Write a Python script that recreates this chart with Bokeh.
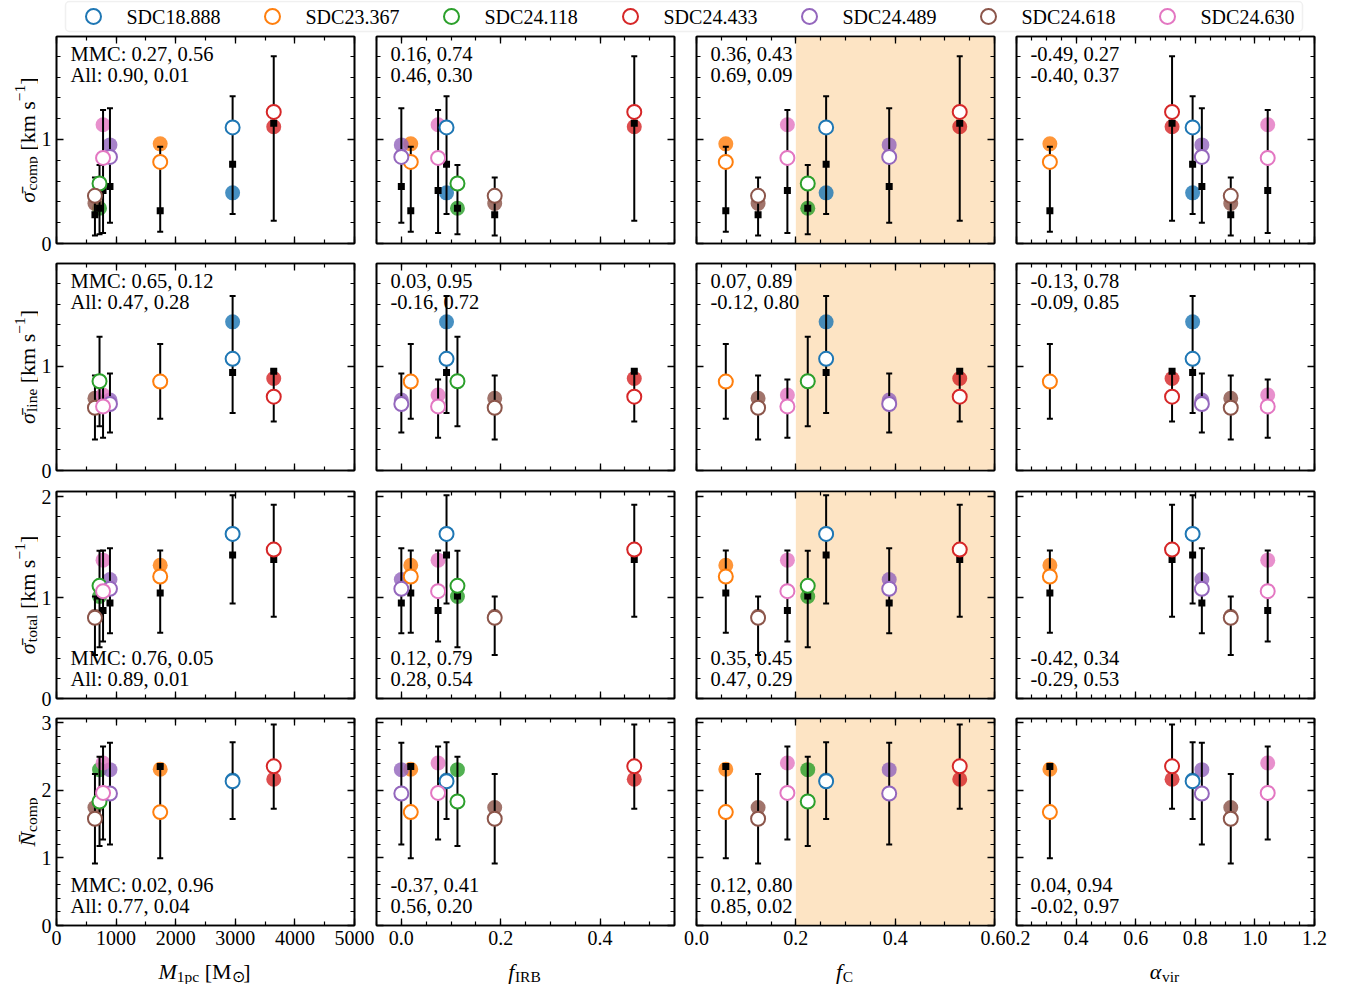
import math
from bokeh.plotting import figure
from bokeh.models import (Range1d, FixedTicker, LinearAxis, Label, BoxAnnotation,
                          NumeralTickFormatter, ColumnDataSource)
from bokeh.layouts import column, row
from bokeh.embed import file_html
from bokeh.resources import INLINE

NAN = float("nan")

# ---------------- data ----------------
names = ["SDC18.888", "SDC23.367", "SDC24.118", "SDC24.433", "SDC24.489", "SDC24.618", "SDC24.630"]
colors = ["#1f77b4", "#ff7f0e", "#2ca02c", "#d62728", "#9467bd", "#8c564b", "#e377c2"]

m1pc = [2955, 1740, 722, 3645, 897, 645, 781]
f_irb = [0.091, 0.019, 0.113, 0.469, 0.0, 0.188, 0.074]
f_c = [0.261, 0.059, 0.224, 0.530, 0.388, 0.124, 0.183]
alpha_vir = [0.791, 0.312, NAN, 0.722, 0.822, 0.919, 1.043]

# sigma_comp
comp_filled = [0.487, 0.958, 0.339, 1.123, 0.948, 0.384, 1.142]
comp_open = [1.116, 0.784, 0.577, 1.265, 0.832, 0.458, 0.823]
comp_med = [0.761, 0.316, 0.339, 1.155, 0.548, 0.277, 0.510]
comp_lo = [0.284, 0.113, 0.090, 0.219, 0.200, 0.077, 0.100]
comp_hi = [1.416, 0.930, 0.755, 1.800, 1.300, 0.635, 1.284]

# sigma_line
line_filled = [1.429, 0.855, 0.858, 0.884, 0.677, 0.694, 0.726]
line_open = [1.074, 0.855, 0.858, 0.710, 0.639, 0.603, 0.616]
line_med = [0.942, 0.855, 0.858, 0.955, 0.639, 0.603, 0.616]
line_lo = [0.552, 0.497, 0.426, 0.471, 0.365, 0.297, 0.316]
line_hi = [1.677, 1.216, 1.287, 0.968, 0.932, 0.913, 0.874]

# sigma_total
total_filled = [1.630, 1.320, 1.010, 1.475, 1.178, 0.815, 1.370]
total_open = [1.630, 1.208, 1.116, 1.475, 1.086, 0.799, 1.063]
total_med = [1.422, 1.046, 1.016, 1.376, 0.947, 0.800, 0.871]
total_lo = [0.940, 0.650, 0.508, 0.809, 0.647, 0.430, 0.564]
total_hi = [2.013, 1.465, 1.462, 1.920, 1.488, 1.010, 1.465]

# N_comp
ncomp_filled = [2.150, 2.309, 2.304, 2.162, 2.304, 1.745, 2.402]
ncomp_open = [2.132, 1.676, 1.833, 2.353, 1.951, 1.578, 1.960]
ncomp_med = [2.132, 2.350, 1.833, 2.353, 1.951, 1.578, 1.960]
ncomp_lo = [1.574, 0.995, 1.176, 1.725, 1.196, 0.917, 1.270]
ncomp_hi = [2.710, 2.360, 2.495, 2.970, 2.700, 2.240, 2.647]

stats_text = [
    [("MMC: 0.27, 0.56", "All: 0.90, 0.01"), ("0.16, 0.74", "0.46, 0.30"),
     ("0.36, 0.43", "0.69, 0.09"), ("-0.49, 0.27", "-0.40, 0.37")],
    [("MMC: 0.65, 0.12", "All: 0.47, 0.28"), ("0.03, 0.95", "-0.16, 0.72"),
     ("0.07, 0.89", "-0.12, 0.80"), ("-0.13, 0.78", "-0.09, 0.85")],
    [("MMC: 0.76, 0.05", "All: 0.89, 0.01"), ("0.12, 0.79", "0.28, 0.54"),
     ("0.35, 0.45", "0.47, 0.29"), ("-0.42, 0.34", "-0.29, 0.53")],
    [("MMC: 0.02, 0.96", "All: 0.77, 0.04"), ("-0.37, 0.41", "0.56, 0.20"),
     ("0.12, 0.80", "0.85, 0.02"), ("0.04, 0.94", "-0.02, 0.97")],
]

x_vars = [m1pc, f_irb, f_c, alpha_vir]
rows_data = [
    (comp_filled, comp_open, comp_med, comp_lo, comp_hi),
    (line_filled, line_open, line_med, line_lo, line_hi),
    (total_filled, total_open, total_med, total_lo, total_hi),
    (ncomp_filled, ncomp_open, ncomp_med, ncomp_lo, ncomp_hi),
]

# ---------------- layout / style ----------------
FONT = "Liberation Serif"
FS = "20px"
FW, FH = 298, 207
STRIP_W = 38
LEG_H = 35
XLAB_H = 30
LEFT = [17, 1, 13, 11]
RIGHT = [21, 9, 11, 25]
TOP = [1, 7, 10, 10]
BOTTOM = [13, 11, 10, 29]
XR = [(0, 5000), (-0.05, 0.55), (0.0, 0.6), (0.2, 1.2)]
YR = [(0, 1.99), (0, 1.99), (0, 2.05), (0, 3.06)]
XMAJ = [[0, 1000, 2000, 3000, 4000, 5000], [0.0, 0.2, 0.4], [0.0, 0.2, 0.4, 0.6],
        [0.2, 0.4, 0.6, 0.8, 1.0, 1.2]]
XMIN = [[500 * i for i in range(11)], [round(-0.05 + 0.05 * i, 3) for i in range(13)],
        [round(0.05 * i, 3) for i in range(13)], [round(0.2 + 0.05 * i, 3) for i in range(21)]]
YMAJ = [[0, 1, 2], [0, 1, 2], [0, 1, 2], [0, 1, 2, 3]]
YMIN = [round(0.2 * i, 2) for i in range(16)]
XFMT = ["0", "0.0", "0.0", "0.0"]

COL_W = [LEFT[c] + FW + RIGHT[c] for c in range(4)]
ROW_H = [TOP[r] + FH + BOTTOM[r] for r in range(4)]
TOTAL_W = STRIP_W + sum(COL_W)
GRID_H = sum(ROW_H)

# approx glyph widths (em) for composing labels from pieces
WR = {' ': 0.25, '[': 0.333, ']': 0.333, 'k': 0.5, 'm': 0.778, 's': 0.389, 'c': 0.444,
      'o': 0.5, 'p': 0.5, 'l': 0.278, 'i': 0.278, 'n': 0.5, 'e': 0.444, 't': 0.278,
      'a': 0.444, 'v': 0.5, 'r': 0.333, 'I': 0.333, 'R': 0.667, 'B': 0.667, 'C': 0.667,
      'M': 0.889, '1': 0.5, '\u2212': 0.564, '\u2299': 0.75, '\u0304': 0.0}
WI = {'M': 0.833, 'N': 0.667, 'f': 0.3, '\u03c3': 0.55, '\u03b1': 0.55, '\u0304': 0.0}


def tw(text, size, style):
    table = WI if style == "italic" else WR
    return sum(table.get(ch, WR.get(ch, 0.5)) for ch in text) * size


def add_pieces(p, pieces, center, base, vertical):
    total = sum(tw(t, s, st) for t, s, st, off in pieces)
    pos = center - total / 2
    for t, s, st, off in pieces:
        lead = len(t) - len(t.lstrip(" "))
        pos += tw(" " * lead, s, st)
        t = t.lstrip(" ")
        if vertical:
            lab = Label(x=base + off, y=pos, angle=math.pi / 2, text=t)
        else:
            lab = Label(x=pos, y=base + off, text=t)
        lab.text_font = FONT
        lab.text_font_size = f"{s}px"
        lab.text_font_style = st
        lab.text_color = "black"
        lab.text_align = "left"
        lab.text_baseline = "alphabetic"
        p.add_layout(lab)
        pos += tw(t, s, st)


BIG, SMALL = 22, 15.5
ylabel_pieces = [
    [("\u03c3\u0304", BIG, "italic", 0), ("comp", SMALL, "normal", 4), (" [km s", BIG, "normal", 0),
     ("\u22121", SMALL, "normal", -8), ("]", BIG, "normal", 0)],
    [("\u03c3\u0304", BIG, "italic", 0), ("line", SMALL, "normal", 4), (" [km s", BIG, "normal", 0),
     ("\u22121", SMALL, "normal", -8), ("]", BIG, "normal", 0)],
    [("\u03c3\u0304", BIG, "italic", 0), ("total", SMALL, "normal", 4), (" [km s", BIG, "normal", 0),
     ("\u22121", SMALL, "normal", -8), ("]", BIG, "normal", 0)],
    [("N\u0304", BIG, "italic", 0), ("comp", SMALL, "normal", 4)],
]
xlabel_pieces = [
    [("M", BIG, "italic", 0), ("1pc", SMALL, "normal", -4.5), (" [M", BIG, "normal", 0),
     ("\u2299", SMALL, "normal", -4.5), ("]", BIG, "normal", 0)],
    [("f", BIG, "italic", 0), ("IRB", SMALL, "normal", -4.5)],
    [("f", BIG, "italic", 0), ("C", SMALL, "normal", -4.5)],
    [("\u03b1", BIG, "italic", 0), ("vir", SMALL, "normal", -4.5)],
]


def blank_fig(w, h):
    f = figure(width=w, height=h, x_range=Range1d(0, w), y_range=Range1d(0, h),
               min_border=0, output_backend="svg", toolbar_location=None,
               x_axis_location=None, y_axis_location=None, outline_line_color=None,
               background_fill_color="white", border_fill_color="white")
    f.grid.visible = False
    return f


def add_axis(p, side, ticks, minor, fmt, show):
    ax = LinearAxis(ticker=FixedTicker(ticks=ticks, minor_ticks=minor))
    ax.axis_line_width = 1.6
    ax.axis_line_color = "black"
    ax.major_tick_in = 7
    ax.major_tick_out = 0
    ax.minor_tick_in = 4
    ax.minor_tick_out = 0
    ax.major_tick_line_width = 1.3
    ax.minor_tick_line_width = 1.2
    ax.major_tick_line_color = "black"
    ax.minor_tick_line_color = "black"
    if show:
        ax.formatter = NumeralTickFormatter(format=fmt)
        ax.major_label_text_font = FONT
        ax.major_label_text_font_size = FS
        ax.major_label_text_color = "black"
        ax.major_label_standoff = 5
    else:
        ax.major_label_text_font_size = "0px"
        ax.major_label_text_color = None
        ax.major_label_standoff = 0
    p.add_layout(ax, side)


def make_panel(r, c):
    p = figure(frame_width=FW, frame_height=FH,
               x_range=Range1d(*XR[c]), y_range=Range1d(*YR[r]),
               output_backend="svg", toolbar_location=None,
               x_axis_location=None, y_axis_location=None,
               min_border_left=LEFT[c], min_border_right=RIGHT[c],
               min_border_top=TOP[r], min_border_bottom=BOTTOM[r],
               background_fill_color="white", border_fill_color="white",
               outline_line_color="black", outline_line_width=1.6)
    p.grid.visible = False

    add_axis(p, "below", XMAJ[c], XMIN[c], XFMT[c], r == 3)
    add_axis(p, "above", XMAJ[c], XMIN[c], XFMT[c], False)
    add_axis(p, "left", YMAJ[r], YMIN, "0", c == 0)
    add_axis(p, "right", YMAJ[r], YMIN, "0", False)

    if c == 2:
        p.add_layout(BoxAnnotation(left=0.2, right=0.6, fill_color="#fde4c4", fill_alpha=1.0,
                                   line_color=None, level="underlay"))

    xs = x_vars[c]
    filled, opn, med, lo, hi = rows_data[r]
    keep = [i for i in range(len(names)) if not math.isnan(xs[i])]
    src = ColumnDataSource(dict(
        x=[xs[i] for i in keep], yf=[filled[i] for i in keep], yo=[opn[i] for i in keep],
        ym=[med[i] for i in keep], lo=[lo[i] for i in keep], hi=[hi[i] for i in keep],
        col=[colors[i] for i in keep]))

    p.scatter("x", "yf", source=src, size=15, fill_color="col", fill_alpha=0.82, line_color=None)
    p.segment("x", "lo", "x", "hi", source=src, line_color="black", line_width=2)
    p.scatter("x", "lo", source=src, marker="dash", size=6, line_color="black", line_width=2)
    p.scatter("x", "hi", source=src, marker="dash", size=6, line_color="black", line_width=2)
    p.scatter("x", "ym", source=src, marker="square", size=7, fill_color="black", line_color=None)
    p.scatter("x", "yo", source=src, size=14, fill_color="white", line_color="col", line_width=2)

    for k, t in enumerate(stats_text[r][c]):
        y = (FH - 17 - 21 * k) if r < 2 else (41 - 21 * k)
        p.add_layout(Label(x=14, y=y, x_units="screen", y_units="screen", text=t,
                           text_font=FONT, text_font_size="20.5px", text_color="black",
                           text_baseline="middle", text_align="left"))
    return p


# ---------------- legend strip ----------------
leg = blank_fig(TOTAL_W, LEG_H)
leg.add_layout(BoxAnnotation(left=65, right=1302, bottom=LEG_H - 31, top=LEG_H - 1,
                             fill_color="white", fill_alpha=1.0, line_color="#cccccc",
                             line_width=1.5, border_radius=4, level="underlay"))
item_x = [93 + 179 * i for i in range(len(names))]
lsrc = ColumnDataSource(dict(x=item_x, tx=[v + 33 for v in item_x],
                             y=[LEG_H - 16] * len(names), col=colors, name=names))
leg.scatter("x", "y", source=lsrc, size=15, fill_color="white", line_color="col", line_width=2)
leg.text("tx", "y", text="name", source=lsrc, text_font={"value": FONT},
         text_font_size={"value": "20px"}, text_baseline="middle", text_align="left",
         text_color="black")

# ---------------- y-label strip ----------------
ystrip = blank_fig(STRIP_W, GRID_H)
acc = 0
for r in range(4):
    frame_center = GRID_H - (acc + TOP[r] + FH / 2)
    add_pieces(ystrip, ylabel_pieces[r], frame_center, 27, True)
    acc += ROW_H[r]

# ---------------- x-label strip ----------------
xstrip = blank_fig(TOTAL_W, XLAB_H)
accx = STRIP_W
for c in range(4):
    add_pieces(xstrip, xlabel_pieces[c], accx + LEFT[c] + FW / 2, 13, False)
    accx += COL_W[c]

panel_rows = [row(*[make_panel(r, c) for c in range(4)]) for r in range(4)]
layout = column(leg, row(ystrip, column(*panel_rows)), xstrip)

open("out.html", "w").write(file_html(layout, INLINE))
